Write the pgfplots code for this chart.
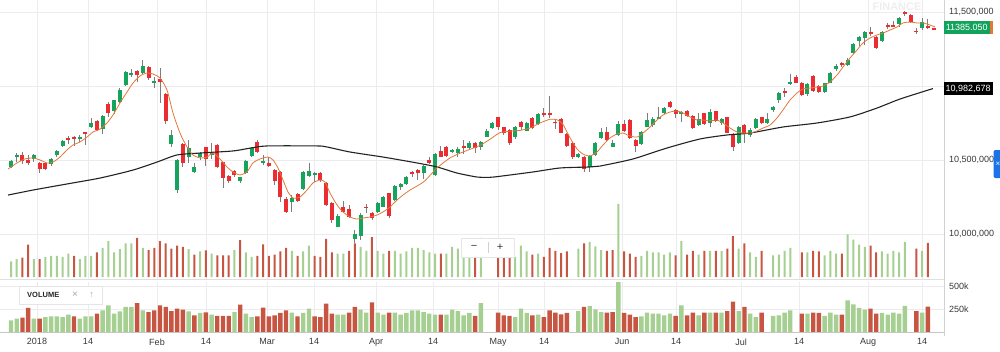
\documentclass[border=0pt]{standalone}
\usepackage{pgfplots}
\pgfplotsset{compat=1.18}
\usepackage{pgfplotstable}
\usepackage{fontspec}
\setmainfont{Liberation Sans}
\definecolor{cgreen}{RGB}{22,163,92}
\definecolor{cred}{RGB}{235,45,50}
\definecolor{wick}{RGB}{125,125,125}
\definecolor{volg}{RGB}{165,208,146}
\definecolor{volr}{RGB}{198,86,66}
\definecolor{maorange}{RGB}{226,120,58}
\definecolor{mablack}{RGB}{35,35,35}
\definecolor{gridc}{RGB}{236,236,238}
\definecolor{lblg}{RGB}{18,162,92}
\definecolor{tabblue}{RGB}{26,115,232}
\definecolor{ticktext}{RGB}{55,55,55}

\pgfplotstableread{
i o h l c
0 10455 10500 10448 10493
1 10518 10549 10484 10536
2 10531 10554 10473 10491
3 10500 10531 10464 10482
4 10504 10540 10486 10534
5 10477 10484 10410 10439
6 10482 10489 10432 10441
7 10473 10516 10462 10507
8 10531 10568 10522 10561
9 10595 10635 10590 10626
10 10651 10664 10608 10637
11 10653 10664 10597 10640
12 10642 10669 10624 10655
13 10687 10691 10601 10676
14 10723 10781 10718 10748
15 10766 10770 10698 10703
16 10707 10804 10673 10795
17 10876 10890 10788 10820
18 10833 10908 10808 10903
19 10892 10984 10883 10973
20 11004 11101 11000 11092
21 11072 11113 11058 11090
22 11099 11108 11029 11076
23 11090 11176 11081 11137
24 11126 11135 11041 11054
25 11022 11058 10984 11036
26 11049 11119 10887 11025
27 10946 10955 10743 10766
28 10608 10703 10590 10669
29 10297 10504 10279 10500
30 10608 10617 10455 10477
31 10522 10635 10482 10579
32 10419 10477 10410 10455
33 10522 10556 10500 10549
34 10585 10590 10459 10504
35 10534 10617 10504 10552
36 10599 10608 10448 10455
37 10484 10489 10308 10376
38 10392 10399 10347 10358
39 10426 10430 10387 10399
40 10358 10387 10347 10383
41 10410 10500 10405 10493
42 10529 10590 10523 10583
43 10620 10635 10550 10556
44 10482 10534 10466 10493
45 10482 10523 10455 10460
46 10433 10437 10331 10360
47 10421 10428 10219 10252
48 10234 10248 10144 10151
49 10216 10264 10151 10246
50 10270 10275 10216 10225
51 10302 10428 10297 10421
52 10392 10482 10387 10428
53 10399 10421 10354 10415
54 10410 10421 10354 10365
55 10347 10354 10189 10196
56 10212 10219 10077 10095
57 10050 10135 10045 10122
58 10180 10225 10144 10151
59 10167 10196 10106 10113
60 9966 10027 9937 9998
61 9985 10145 9960 10130
62 10185 10203 10144 10174
63 10144 10151 10095 10106
64 10151 10219 10144 10212
65 10185 10257 10180 10248
66 10275 10279 10106 10122
67 10230 10331 10225 10324
68 10320 10347 10297 10338
69 10338 10392 10331 10383
70 10421 10428 10387 10410
71 10433 10437 10365 10415
72 10410 10466 10369 10462
73 10500 10522 10473 10482
74 10399 10545 10394 10538
75 10563 10595 10518 10522
76 10586 10595 10522 10527
77 10552 10572 10545 10568
78 10545 10590 10518 10572
79 10597 10635 10540 10583
80 10579 10631 10572 10617
81 10613 10624 10545 10579
82 10590 10631 10568 10624
83 10658 10707 10653 10698
84 10714 10759 10707 10748
85 10788 10793 10703 10725
86 10721 10725 10670 10680
87 10703 10707 10601 10617
88 10658 10730 10640 10721
89 10759 10766 10703 10721
90 10698 10759 10694 10748
91 10786 10793 10707 10714
92 10743 10815 10734 10808
93 10820 10849 10793 10806
94 10815 10932 10781 10802
95 10759 10775 10707 10748
96 10775 10781 10680 10685
97 10673 10680 10590 10597
98 10617 10624 10504 10518
99 10522 10549 10511 10540
100 10522 10527 10421 10439
101 10455 10534 10421 10527
102 10534 10624 10527 10613
103 10646 10714 10640 10691
104 10691 10721 10631 10635
105 10590 10635 10586 10617
106 10669 10766 10662 10743
107 10743 10770 10691 10698
108 10770 10775 10640 10646
109 10635 10640 10556 10595
110 10608 10698 10601 10691
111 10725 10820 10721 10770
112 10736 10788 10725 10775
113 10781 10856 10775 10793
114 10820 10860 10811 10849
115 10892 10896 10849 10856
116 10838 10842 10781 10811
117 10815 10833 10759 10824
118 10829 10838 10793 10797
119 10797 10802 10707 10714
120 10734 10815 10730 10775
121 10815 10820 10734 10743
122 10752 10842 10721 10826
123 10831 10833 10759 10766
124 10748 10781 10736 10775
125 10788 10793 10680 10685
126 10669 10680 10563 10590
127 10613 10730 10608 10721
128 10736 10743 10613 10680
129 10669 10714 10658 10703
130 10714 10781 10707 10775
131 10788 10793 10743 10752
132 10748 10815 10743 10777
133 10838 10865 10826 10860
134 10905 10962 10883 10955
135 10968 10984 10928 10955
136 11018 11081 11007 11029
137 11063 11074 11018 11022
138 11022 11029 10935 10939
139 10946 11018 10935 11013
140 11067 11074 10962 10968
141 11000 11007 10955 10962
142 10962 11022 10950 11018
143 11022 11097 11018 11090
144 11113 11149 11104 11137
145 11153 11160 11131 11140
146 11142 11187 11135 11176
147 11225 11293 11216 11284
148 11306 11338 11270 11329
149 11322 11374 11277 11367
150 11365 11401 11338 11356
151 11333 11338 11248 11254
152 11306 11374 11299 11367
153 11410 11428 11383 11401
154 11412 11441 11396 11401
155 11419 11464 11396 11457
156 11502 11509 11473 11486
157 11480 11486 11428 11435
158 11374 11390 11351 11365
159 11390 11457 11378 11435
160 11405 11450 11383 11396
161 11392 11394 11383 11385.05
}\candles

\pgfplotstableread{
i v u
0 127 1
1 145 1
2 156 0
3 261 0
4 145 1
5 145 0
6 163 1
7 170 1
8 170 1
9 163 1
10 188 1
11 170 0
12 145 1
13 170 1
14 170 1
15 199 0
16 235 1
17 290 1
18 199 1
19 225 1
20 272 1
21 272 1
22 315 0
23 235 1
24 217 0
25 235 0
26 290 0
27 272 0
28 228 0
29 254 0
30 243 0
31 225 1
32 181 0
33 207 1
34 214 0
35 188 1
36 174 0
37 174 0
38 174 0
39 217 1
40 297 0
41 199 1
42 163 1
43 170 0
44 264 0
45 170 0
46 181 0
47 207 0
48 235 0
49 210 1
50 170 0
51 207 1
52 254 1
53 170 0
54 163 0
55 308 0
56 199 0
57 188 1
58 188 1
59 210 0
60 272 0
61 243 1
62 210 1
63 322 0
64 210 1
65 188 1
66 210 0
67 210 1
68 188 1
69 207 1
70 235 1
71 235 1
72 217 1
73 199 1
74 188 1
75 188 0
76 188 1
77 243 1
78 228 1
79 181 1
80 207 1
81 174 0
82 315 1
85 210 0
86 181 0
87 174 0
88 163 1
89 254 1
90 207 1
91 181 0
92 188 1
93 163 0
94 235 0
95 210 0
96 192 0
97 207 0
99 228 1
100 272 0
101 283 1
102 246 1
103 217 1
104 210 0
105 217 0
106 590 1
107 207 0
108 188 0
109 163 0
110 170 1
111 210 1
112 199 1
113 199 1
114 181 1
115 199 1
116 174 0
117 290 1
118 181 0
119 210 0
120 181 1
121 210 0
122 210 1
123 210 0
124 210 1
125 228 0
126 330 0
127 228 1
128 272 0
129 199 1
130 163 1
131 210 0
133 174 1
134 181 1
135 210 1
136 235 1
138 199 0
139 199 1
140 210 0
141 207 0
142 174 1
143 210 1
144 188 1
145 188 0
146 344 1
147 301 1
148 261 1
149 243 1
150 254 0
151 199 0
152 207 1
153 188 1
154 210 1
155 199 1
156 283 1
158 228 0
159 210 1
160 275 0
}\vol

\begin{document}
\begin{tikzpicture}[x=1pt,y=1pt]
\useasboundingbox (0,0) rectangle (1000,-351);

% ---------------- price panel ----------------
\begin{axis}[
  at={(0pt,0pt)}, anchor=north west,
  scale only axis, width=944pt, height=280pt,
  xmin=0, xmax=944, ymin=9689.1, ymax=11581.1,
  axis line style={draw=none}, tick style={draw=none},
  xtick={37,88,157,206,267,314,376,433,498,544,622,676,741,799,868,922},
  xticklabels={},
  ytick={10000,10500,11000,11500},
  yticklabels={{10,000,000},{10,500,000},{},{11,500,000}},
  yticklabel pos=right,
  y tick label style={font=\fontsize{9}{10}\selectfont, text=ticktext, anchor=west, inner sep=0pt, xshift=5pt},
  grid=major, major grid style={draw=gridc, line width=0.7pt},
]
% wicks
\addplot[draw=none, mark=none, forget plot,
  error bars/.cd, y dir=both, y explicit, error mark=none,
  error bar style={draw=wick, line width=0.9pt}]
  table[x expr=11+5.73*\thisrow{i}, y expr=(\thisrow{h}+\thisrow{l})/2, y error expr=(\thisrow{h}-\thisrow{l})/2] {\candles};
% up bodies
\addplot[draw=none, mark=none, forget plot,
  restrict expr to domain={\thisrow{c}-\thisrow{o}}{0:5000},
  error bars/.cd, y dir=both, y explicit, error mark=none,
  error bar style={draw=cgreen, line width=4pt}]
  table[x expr=11+5.73*\thisrow{i}, y expr=(\thisrow{o}+\thisrow{c})/2, y error expr={max(abs(\thisrow{c}-\thisrow{o})/2,3.5)}] {\candles};
% down bodies
\addplot[draw=none, mark=none, forget plot,
  restrict expr to domain={\thisrow{o}-\thisrow{c}}{0.001:5000},
  error bars/.cd, y dir=both, y explicit, error mark=none,
  error bar style={draw=cred, line width=4pt}]
  table[x expr=11+5.73*\thisrow{i}, y expr=(\thisrow{o}+\thisrow{c})/2, y error expr={max(abs(\thisrow{c}-\thisrow{o})/2,3.5)}] {\candles};
% long moving average
\addplot[mablack, line width=1.1pt, smooth, tension=0.4] coordinates {
(8,10263) (33,10297) (67,10338) (100,10378) (133,10432) (157,10486) (177,10534)
(200,10547) (233,10561) (250,10580) (267,10595) (317,10595) (327,10588) (350,10554)
(383,10520) (417,10480) (437,10453) (457,10412) (477,10385) (490,10383) (500,10390)
(533,10419) (560,10446) (590,10453) (600,10459) (633,10507) (667,10581) (700,10642)
(727,10669) (750,10682) (783,10723) (817,10750) (850,10791) (877,10851) (900,10912)
(933,10982.678)};
% short moving average
\addplot[maorange, line width=0.8pt, smooth, tension=0.4] coordinates {
(8,10439) (17,10480) (25,10507) (33,10514) (40,10500) (47,10480) (53,10486) (60,10520)
(67,10568) (73,10601) (80,10622) (87,10655) (93,10689) (100,10709) (107,10750) (113,10804)
(120,10885) (127,10959) (133,11020) (140,11068) (147,11088) (153,11081) (160,11054)
(167,10973) (173,10818) (180,10682) (187,10588) (193,10534) (200,10514) (207,10520)
(213,10547) (220,10507) (227,10453) (233,10419) (240,10399) (247,10420) (253,10480)
(260,10507) (268,10520) (273,10500) (278,10446) (283,10365) (288,10284) (293,10243)
(300,10250) (307,10297) (313,10345) (320,10365) (325,10351) (330,10277) (337,10196)
(343,10149) (350,10115) (357,10101) (363,10108) (370,10115) (377,10128) (383,10149)
(390,10182) (397,10230) (403,10263) (410,10297) (417,10324) (425,10360) (437,10446)
(450,10514) (463,10554) (470,10572) (477,10590) (483,10610) (490,10640) (500,10685)
(510,10695) (520,10700) (530,10716) (540,10750) (550,10775) (557,10772) (563,10740)
(570,10650) (577,10575) (583,10540) (590,10527) (597,10554) (603,10601) (610,10649)
(617,10676) (623,10682) (630,10662) (637,10655) (643,10682) (650,10723) (657,10770)
(663,10804) (670,10824) (677,10831) (683,10818) (690,10791) (697,10770) (703,10770)
(710,10764) (717,10770) (723,10750) (730,10716) (737,10689) (743,10682) (750,10682)
(757,10696) (763,10716) (770,10736) (777,10784) (783,10838) (790,10905) (797,10953)
(803,10980) (810,10986) (817,10993) (823,11000) (830,11027) (837,11074) (843,11128)
(850,11189) (857,11243) (863,11291) (870,11324) (877,11345) (883,11358) (890,11378)
(897,11399) (903,11426) (910,11432) (917,11426) (923,11426) (930,11412) (935,11399)};
\end{axis}

% ---------------- volume overlay in price panel ----------------
\begin{axis}[
  at={(0pt,-277pt)}, anchor=south west,
  scale only axis, width=944pt, height=80pt,
  xmin=0, xmax=944, ymin=0, ymax=645,
  hide axis,
]
\addplot[ybar, bar width=2pt, bar shift=0pt, fill=volg, draw=none,
  restrict expr to domain={\thisrow{u}}{0.5:1.5}]
  table[x expr=11+5.73*\thisrow{i}, y=v] {\vol};
\addplot[ybar, bar width=2pt, bar shift=0pt, fill=volr, draw=none,
  restrict expr to domain={\thisrow{u}}{-0.5:0.5}]
  table[x expr=11+5.73*\thisrow{i}, y=v] {\vol};
\end{axis}

% ---------------- volume panel ----------------
\begin{axis}[
  at={(0pt,-332pt)}, anchor=south west,
  scale only axis, width=944pt, height=50pt,
  xmin=0, xmax=944, ymin=0, ymax=543.5,
  axis line style={draw=none}, tick style={draw=none},
  xtick={37,88,157,206,267,314,376,433,498,544,622,676,741,799,868,922},
  xticklabels={2018,14,Feb,14,Mar,14,Apr,14,May,14,Jun,14,Jul,14,Aug,14},
  x tick label style={font=\fontsize{9}{10}\selectfont, text=ticktext, yshift=-3pt},
  ytick={250,500}, yticklabels={250k,500k},
  yticklabel pos=right,
  y tick label style={font=\fontsize{9}{10}\selectfont, text=ticktext, anchor=west, inner sep=0pt, xshift=5pt},
  grid=major, major grid style={draw=gridc, line width=0.7pt},
]
\addplot[ybar, bar width=4.4pt, bar shift=0pt, fill=volg, draw=none,
  restrict expr to domain={\thisrow{u}}{0.5:1.5}]
  table[x expr=11+5.73*\thisrow{i}, y=v] {\vol};
\addplot[ybar, bar width=4.4pt, bar shift=0pt, fill=volr, draw=none,
  restrict expr to domain={\thisrow{u}}{-0.5:0.5}]
  table[x expr=11+5.73*\thisrow{i}, y=v] {\vol};
\end{axis}

% frame lines
\draw[gray!35, line width=0.7pt] (944,0) -- (944,-336);
\draw[gray!25, line width=1.4pt] (0,-279.5) -- (944,-279.5);
\draw[gray!45, line width=0.8pt] (0,-332) -- (944,-332);

% watermark
\node[text=gray!13, font=\bfseries\fontsize{11}{11}\selectfont, anchor=north, inner sep=0pt] at (897,-3) {FINANCE};

% price labels
\fill[maorange] (947,-20.5) rectangle (993,-34.3);
\fill[lblg] (943.5,-20.5) rectangle (990,-34.3);
\node[text=white, font=\fontsize{9}{10}\selectfont, inner sep=0pt] at (966.8,-27.6) {11385.050};
\fill[black] (943.5,-82.3) rectangle (993,-95.3);
\node[text=white, font=\fontsize{9}{10}\selectfont, inner sep=0pt] at (968.2,-88.8) {10,982,678};
\fill[tabblue, rounded corners=2pt] (993.5,-150) rectangle (1003,-178);
\node[text=white, font=\fontsize{8}{8}\selectfont, inner sep=0pt] at (998,-164) {×};

% zoom control
\fill[white] (461,-238) rectangle (514,-257);
\draw[gray!20, line width=0.6pt] (461,-238) rectangle (514,-257);
\node[text=ticktext, font=\fontsize{11}{11}\selectfont, inner sep=0pt] at (474,-247.5) {−};
\draw[gray!35, line width=0.6pt] (488,-242) -- (488,-253);
\node[text=ticktext, font=\fontsize{11}{11}\selectfont, inner sep=0pt] at (500,-247.5) {+};

% volume legend box
\fill[white] (19,-286) rectangle (102,-304);
\draw[gray!20, line width=0.6pt] (19,-286) rectangle (102,-304);
\node[text=black!85, font=\bfseries\fontsize{7.5}{8}\selectfont, anchor=west, inner sep=0pt] at (27,-295) {VOLUME};
\node[text=gray!70, font=\fontsize{10}{10}\selectfont, inner sep=0pt] at (75,-295) {×};
\node[text=gray!70, font=\fontsize{9}{9}\selectfont, inner sep=0pt] at (91.5,-295) {↑};
\end{tikzpicture}
\end{document}
